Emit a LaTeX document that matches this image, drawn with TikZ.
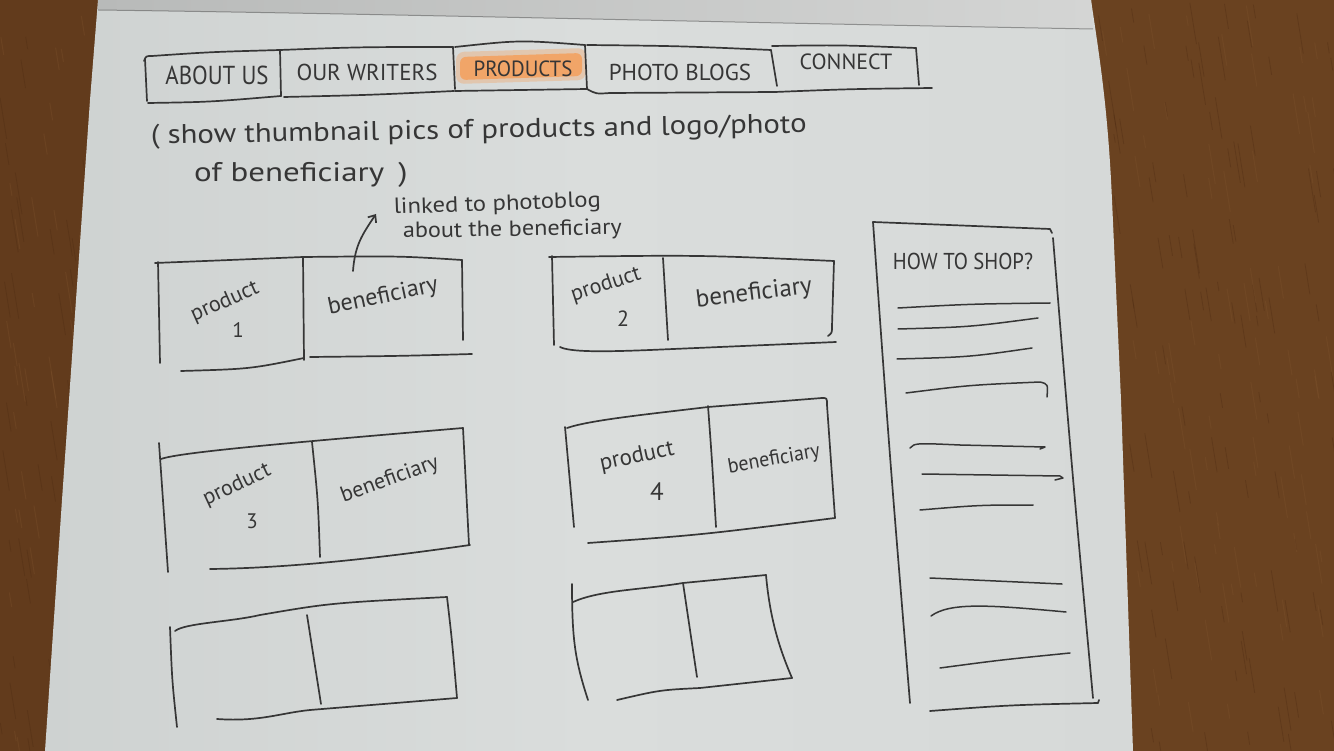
\documentclass[tikz,border=0pt]{standalone}
\usepackage{fontspec}
\setmainfont{PT Sans}
\usetikzlibrary{arrows.meta}

\definecolor{wood}{HTML}{6A4220}
\definecolor{wooddark}{HTML}{4C2A12}
\definecolor{woodlight}{HTML}{80552F}
\definecolor{paperL}{HTML}{CED2D1}
\definecolor{paperM}{HTML}{DADDDC}
\definecolor{paperR}{HTML}{D6D9D8}
\definecolor{bandL}{HTML}{B8BAB9}
\definecolor{bandR}{HTML}{D4D5D4}
\definecolor{inkc}{HTML}{363636}
\definecolor{marker}{HTML}{F4A05C}

\newcommand{\pen}[3][1]{\fontsize{#2}{#2}\selectfont\scalebox{#1}[1]{#3}}

\tikzset{
  ink/.style={draw=inkc, line width=1.7pt, line cap=round, line join=round},
  thin ink/.style={draw=inkc, line width=1.5pt, line cap=round, line join=round},
  hand/.style={text=inkc, inner sep=0pt, outer sep=0pt},
}

\begin{document}
\begin{tikzpicture}[x=1pt,y=-1pt]
\useasboundingbox (0,0) rectangle (1334,751);

% wooden table
\fill[wood] (0,0) rectangle (1334,751);
\fill[wooddark, opacity=0.25] (0,0) rectangle (100,751);
\pgfmathsetseed{7}
\foreach \k in {1,...,700}{
  \pgfmathsetmacro{\gx}{rnd*1334}
  \pgfmathsetmacro{\gy}{rnd*751}
  \pgfmathsetmacro{\gl}{8+rnd*40}
  \draw[wooddark, opacity=0.35, line width=0.8pt] (\gx,\gy) -- ++(0.16*\gl,\gl);
}
\foreach \k in {1,...,500}{
  \pgfmathsetmacro{\gx}{rnd*1334}
  \pgfmathsetmacro{\gy}{rnd*751}
  \pgfmathsetmacro{\gl}{8+rnd*35}
  \draw[woodlight, opacity=0.3, line width=1pt] (\gx,\gy) -- ++(0.16*\gl,\gl);
}

% sheet of paper
\shade[left color=paperL, right color=paperR, middle color=paperM]
  (98,0) -- (1091,0) .. controls (1100,60) and (1108,110) .. (1112,200)
  -- (1121,400) -- (1133,751) -- (45,751) -- (62,500) -- (76,300) -- (90,100) -- cycle;

% folded pages at the top
\shade[left color=bandL, right color=bandR]
  (98,0) -- (1091,0) -- (1093,29) .. controls (700,22) and (400,14) .. (98,10) -- cycle;
\draw[gray!60!black, opacity=0.5, line width=1pt]
  (98,10) .. controls (400,14) and (700,22) .. (1093,29);

% marker highlight behind the current tab
\fill[marker, opacity=0.35, rounded corners=8pt] (456,52) -- (586,48) -- (586,80) -- (456,84) -- cycle;
\fill[marker, opacity=0.85, rounded corners=6pt] (460,57) -- (582,53) -- (582,76) -- (460,80) -- cycle;

% navigation tabs
\draw[ink] (145,59) -- (147,101);
\draw[ink] (144,61) .. controls (146,56) .. (152,56) .. controls (210,52) .. (280,50);
\draw[ink] (280,50) -- (281,96);
\draw[ink] (148,103) .. controls (210,102) .. (281,96);
\draw[ink] (280,50) .. controls (360,47) .. (453,47);
\draw[ink] (453,47) -- (455,89);
\draw[ink] (284,97) .. controls (370,95) .. (454,91);
\draw[ink] (455,47) .. controls (520,40) .. (585,45);
\draw[ink] (585,45) -- (587,89);
\draw[ink] (455,91) -- (587,89);
\draw[ink] (587,45) .. controls (680,46) .. (771,50);
\draw[ink] (771,50) -- (777,86);
\draw[ink] (587,89) .. controls (596,94) .. (610,93) -- (775,92);
\draw[ink] (772,46) .. controls (840,45) .. (916,48);
\draw[ink] (916,48) -- (919,85);
\draw[ink] (775,92) .. controls (850,89) .. (932,88);

\node[hand] (tababout)   at (217,75) {\pen[0.88]{26pt}{ABOUT US}};
\node[hand] (tabwriters) at (367,72) {\pen{23pt}{OUR WRITERS}};
\node[hand] (tabproducts) at (523,69) {\pen[0.95]{22pt}{PRODUCTS}};
\node[hand] (tabphoto)   at (680,72) {\pen{23pt}{PHOTO BLOGS}};
\node[hand] (tabconnect) at (846,62) {\pen{22pt}{CONNECT}};

% page description
\node[hand, anchor=base west, rotate=1] (intro1) at (151,144)
  {\pen[1.14]{27pt}{( show thumbnail pics of products and logo/photo}};
\node[hand, anchor=base west] (intro2) at (194,182)
  {\pen[1.22]{27pt}{of beneficiary \,)}};

% note about the beneficiary link
\node[hand, anchor=base west, rotate=2] (note1) at (394,214) {\pen[1.12]{22pt}{linked to photoblog}};
\node[hand, anchor=base west, rotate=1] (note2) at (403,238) {\pen[1.1]{22pt}{about the beneficiary}};
\coordinate (linkfoot) at (353,271);
\coordinate (linktip) at (376,214);
\draw[ink, -{Straight Barb[length=6pt,width=10pt]}]
  (linkfoot) .. controls (355,245) and (362,235) .. (linktip);

% product card 1
\draw[ink] (158,262) -- (160,363);
\draw[ink] (155,263) .. controls (230,260) .. (303,257) .. controls (400,256) .. (462,260);
\draw[ink] (462,260) -- (463,340);
\draw[ink] (303,257) -- (304,360);
\draw[ink] (181,371) .. controls (250,369) .. (304,358);
\draw[ink] (310,357) .. controls (400,356) .. (472,354);
\node[hand, rotate=24] (prod1) at (225,302) {\pen{22pt}{product}};
\node[hand] (num1) at (238,330) {\pen{21pt}{1}};
\node[hand, rotate=12] (ben1) at (383,297) {\pen{24pt}{beneficiary}};

% product card 2
\draw[ink] (552,256) -- (554,345);
\draw[ink] (549,257) .. controls (700,255) .. (834,261);
\draw[ink] (663,258) -- (668,340);
\draw[ink] (834,261) -- (832,326) .. controls (832,333) .. (828,336);
\draw[ink] (560,347) .. controls (570,352) and (600,352) .. (650,350) -- (836,342);
\node[hand, rotate=18] (prod2) at (606,285) {\pen{22pt}{product}};
\node[hand] (num2) at (623,319) {\pen{22pt}{2}};
\node[hand, rotate=7] (ben2) at (754,294) {\pen{25pt}{beneficiary}};

% product card 3
\draw[ink] (159,443) -- (168,572);
\draw[ink] (161,459) .. controls (180,452) and (300,442) .. (463,428);
\draw[ink] (463,428) -- (469,545);
\draw[ink] (312,442) .. controls (318,500) .. (320,557);
\draw[ink] (210,569) .. controls (300,568) and (400,555) .. (470,545);
\node[hand, rotate=25] (prod3) at (237,485) {\pen{22pt}{product}};
\node[hand] (num3) at (252,521) {\pen{21pt}{3}};
\node[hand, rotate=20] (ben3) at (390,480) {\pen{22pt}{beneficiary}};

% product card 4
\draw[ink] (565,427) -- (574,527);
\draw[ink] (567,428) .. controls (590,420) and (650,414) .. (708,407) -- (822,398) .. controls (827,398) .. (827,405);
\draw[ink] (827,405) -- (835,518);
\draw[ink] (708,406) .. controls (712,460) .. (716,527);
\draw[ink] (588,543) .. controls (700,535) .. (835,518);
\node[hand, rotate=12] (prod4) at (637,457) {\pen{23pt}{product}};
\node[hand] (num4) at (657,492) {\pen{25pt}{4}};
\node[hand, rotate=10] (ben4) at (774,460) {\pen[0.95]{21pt}{beneficiary}};

% empty card 5
\draw[ink] (170,627) .. controls (172,680) .. (177,727);
\draw[ink] (175,631) .. controls (185,623) and (230,622) .. (260,615) .. controls (330,603) .. (447,597);
\draw[ink] (447,597) .. controls (452,640) .. (457,698);
\draw[ink] (307,615) -- (321,704);
\draw[ink] (217,719) .. controls (260,722) and (280,713) .. (310,710) -- (457,698);

% empty card 6
\draw[ink] (572,584) .. controls (572,640) and (575,660) .. (588,700);
\draw[ink] (573,602) .. controls (600,590) and (640,590) .. (683,583) -- (766,575);
\draw[ink] (766,575) .. controls (770,620) and (780,650) .. (792,678);
\draw[ink] (683,583) .. controls (690,630) .. (697,677);
\draw[ink] (617,700) .. controls (660,690) .. (700,688) -- (792,678);

% side panel
\draw[ink] (873,222) -- (1050,229) -- (1052,233);
\draw[ink] (873,222) .. controls (890,460) .. (910,703);
\draw[ink] (1053,238) .. controls (1072,470) .. (1093,698);
\draw[ink] (930,711) .. controls (1010,705) .. (1098,703) -- (1099,700);
\node[hand] (howto) at (963,261) {\pen[0.9]{23pt}{HOW TO SHOP?}};

\draw[thin ink] (898,308) .. controls (970,304) .. (1050,303);
\draw[thin ink] (898,329) .. controls (970,327) .. (1038,318);
\draw[thin ink] (897,359) .. controls (970,357) .. (1032,348);
\draw[thin ink] (906,393) .. controls (970,385) .. (1040,382) .. controls (1048,384) .. (1047,397);
\draw[thin ink] (910,448) .. controls (915,443) .. (960,445) -- (1045,447) -- (1040,449);
\draw[thin ink] (922,474) -- (1060,476) -- (1063,478) -- (1055,480);
\draw[thin ink] (920,510) .. controls (980,505) .. (1033,505);
\draw[thin ink] (930,578) -- (1062,584);
\draw[thin ink] (931,616) .. controls (950,602) and (990,605) .. (1066,612);
\draw[thin ink] (940,668) .. controls (1000,660) .. (1070,653);
\end{tikzpicture}
\end{document}
